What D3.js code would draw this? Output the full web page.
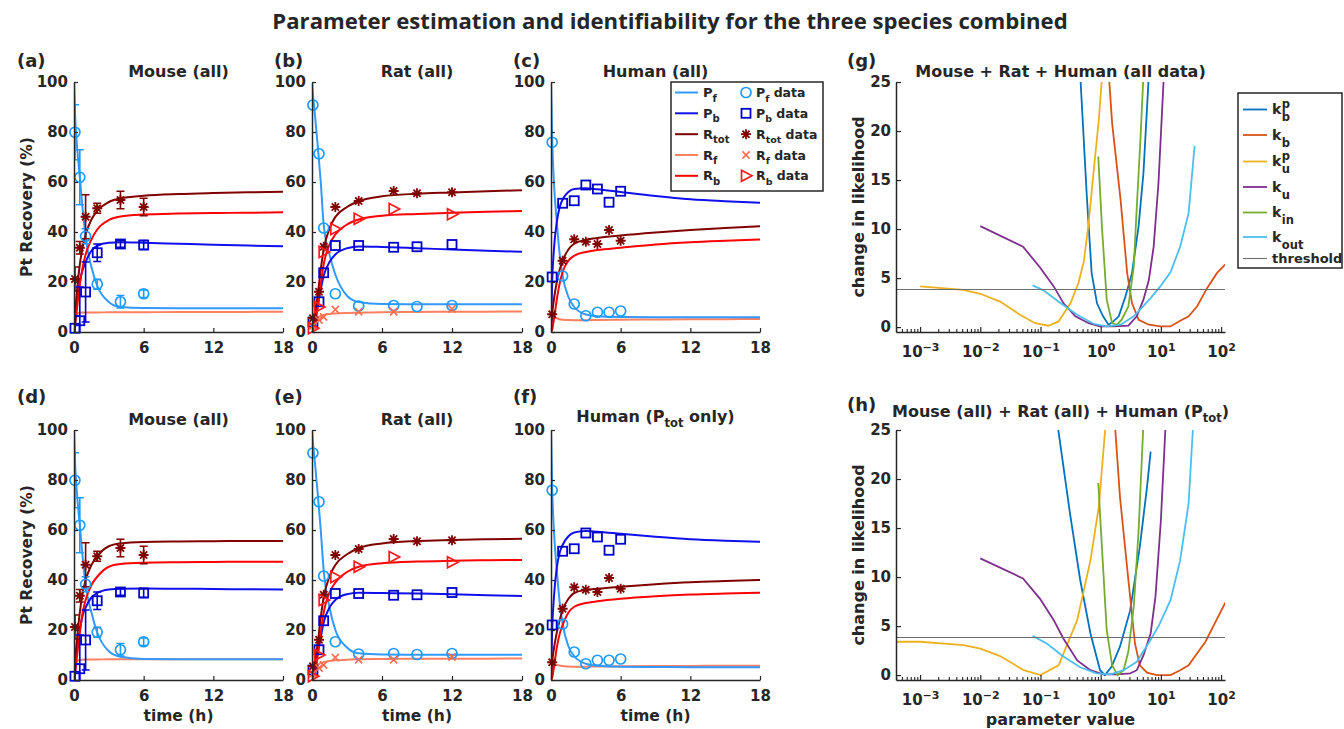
<!DOCTYPE html>
<html><head><meta charset="utf-8">
<script src="https://cdn.jsdelivr.net/npm/d3@7"></script>
<style>
body{margin:0;background:#fff}
svg{display:block}
text{font-family:"DejaVu Sans",sans-serif;font-weight:bold;fill:#262626}
</style>
</head><body>
<svg id="c" width="1344" height="729"></svg>
<script>
// ---------------- DATA ----------------
const timeTicks=[0,6,12,18];
const pctTicks=[0,20,40,60,80,100];
const likeTicks=[0,5,10,15,20,25];
const logMajorTicks=[1e-3,1e-2,1e-1,1,10,100];
const threshold=3.84;

// model time grid (h)
const tModel=[0,0.1,0.25,0.5,0.75,1,1.5,2,3,4,6,9,12,15,18];
// (a) Mouse (all)
const mA_Pf  =[100,86,75,62,49,38,26,18.5,12,10,9.6,9.5,9.5,9.5,9.5];
const mA_Pb  =[0,6,12,20,25,28,32.5,34.5,35.7,35.9,35.7,35.3,34.9,34.6,34.3];
const mA_Rtot=[0,8,16,27,34,39,45,48.5,52,53.5,54.5,55.2,55.6,55.9,56.1];
const mA_Rf  =[0,5,7.2,7.7,7.8,7.8,7.8,7.8,7.9,7.9,7.9,8,8,8.05,8.1];
const mA_Rb  =[0,3,9,19,26,31,37,41,44.8,46.2,47,47.4,47.6,47.7,47.9];
// (b) Rat (all)
const rB_Pf  =[100,94,87,74,60,43,31,23,14.5,12,11.2,11.1,11.1,11.1,11.1];
const rB_Pb  =[0,3,6,11,17,22.5,28,31,33.5,34.2,34,33.5,33,32.5,32.1];
const rB_Rtot=[0,3,7,15,25,33,41.5,46,50,52.3,54.3,55.3,55.8,56.3,56.7];
const rB_Rf  =[0,2.5,4,5.8,6.4,6.8,7.2,7.4,7.6,7.7,7.9,8,8.1,8.15,8.2];
const rB_Rb  =[0,1,3,10,19,27,35,39,43,45,46.5,47.2,47.7,48.1,48.4];
// (c) Human (all)
const hC_Pf  =[100,77,60,44,31,22.5,14,10,7,6.3,6,5.9,5.9,5.9,5.9];
const hC_Pb  =[0,20,33,44,50,53,56,57.2,57.5,57.1,56,54.4,53.1,52.3,51.7];
const hC_Rtot=[0,7,13,20,25,28.5,33,35.3,36.8,37.6,38.6,39.8,40.8,41.6,42.3];
const hC_Rf  =[0,6.5,6.2,5.5,5.1,4.9,4.8,4.7,4.7,4.8,4.9,5,5.1,5.15,5.2];
const hC_Rb  =[0,1,5,13,19.5,24,28.5,30.5,32,32.8,33.7,35,35.9,36.5,37];
// (d) Mouse (all)
const mD_Pf  =[100,86,75,62,49,38,27,19,11.5,9.3,8.4,8.3,8.3,8.3,8.3];
const mD_Pb  =[0,6,12,20,26,29,33,34.8,36.2,36.5,36.6,36.5,36.4,36.3,36.2];
const mD_Rtot=[0,8,16,27,35,40,46,49.5,53.5,54.6,55.2,55.4,55.5,55.6,55.6];
const mD_Rf  =[0,5,7.5,8,8.1,8.2,8.2,8.2,8.3,8.3,8.3,8.3,8.3,8.3,8.3];
const mD_Rb  =[0,3,9,19,27,32,38,41.3,45.3,46.4,46.9,47.1,47.2,47.3,47.3];
// (e) Rat (all)
const rE_Pf  =[100,94,87,74,60,44,29,20,13,10.7,10.2,10.1,10.1,10.1,10.1];
const rE_Pb  =[0,3,6,11,17,23,29,32,34.3,34.9,34.8,34.6,34.3,33.9,33.6];
const rE_Rtot=[0,3,7,15,25,33,41.5,46,50.3,52.7,54.6,55.6,56,56.3,56.5];
const rE_Rf  =[0,2.5,4.2,6,6.8,7.2,7.6,7.9,8.1,8.3,8.4,8.5,8.5,8.55,8.6];
const rE_Rb  =[0,1,3,10,19,27,35,39,43.2,45.3,46.7,47.4,47.7,47.9,48];
// (f) Human (Ptot only)
const hF_Pf  =[100,77,60,44,31,22.5,13.5,9.5,6.5,5.7,5.3,5.2,5.1,5.1,5.1];
const hF_Pb  =[0,20,33,45,51,54,57.5,59,59.6,59.3,58.5,57.3,56.3,55.7,55.3];
const hF_Rtot=[0,7,12.5,19,24,28,32.5,34.8,36,36.5,37.3,38.3,39.1,39.6,40];
const hF_Rf  =[0,6.5,6.3,6,5.8,5.6,5.4,5.3,5.3,5.4,5.5,5.6,5.65,5.7,5.7];
const hF_Rb  =[0,1,5,13,18.5,22,27,29.3,30.8,31.5,32.5,33.5,34.2,34.6,34.9];

// experimental data
const mouseT=[0.08,0.5,1,2,4,6];
const mousePf=[79.9,61.9,38.3,19.1,12.1,15.3];
const mousePfErr=[11,11,3,2,2.5,1.5];
const mousePb=[1.5,4.5,16,31.7,35.2,34.8];
const mousePbErr=[5,13.5,12,3.5,1.3,1.8];
const mouseRtot=[21.2,33.7,46.1,49.5,52.8,50];
const mouseRtotErr=[4.8,2.5,8.8,2,3.5,3.5];

const ratT=[0.08,0.6,1,2,4,7,9,12];
const ratPf=[90.8,71.3,41.6,15.3,10.4,10.6,10.2,10.6];
const ratPb=[4,12.1,23.7,34.6,34.6,33.9,34.1,35];
const ratRtot=[5.5,16.1,34.1,50,52.4,56.4,55.5,55.9];
const ratT2=[0.08,0.6,1,2,4,7,12];
const ratRf=[2.5,4.8,6,9,8.1,8.1,9.2];
const ratRb=[1.5,10,32,41.2,45.3,49.2,47.1];

const humanT=[0.1,1,2,3,4,5,6];
const humanPf=[75.9,22.4,11.2,6.5,7.9,7.9,8.4];
const humanPb=[22,51.5,52.5,58.8,57.2,51.9,56.3];
const humanRtot=[7.1,28.5,37.1,36.1,35.2,40.8,36.5];

// profile likelihoods (g): parameter value, change in likelihood
const g_kbp_x=[0.437,0.589,0.708,0.871,1.096,1.349,1.622,1.995,2.57,3.311,4.266,5.129,6.607];
const g_kbp_y=[28,13.3,5.5,2.4,1.1,0.24,0.58,1.1,3.1,5.5,10.3,15.7,28];
const g_kb_x=[1.288,1.549,2.138,2.754,3.311,4.266,6.31,9.772,14.45,19.95,28.84,39.81,58.88,85.11,117.5];
const g_kb_y=[28,20.8,13,5.5,2.45,0.75,0.24,0.07,0.07,0.58,1.1,2.1,4,5.5,6.4];
const g_kup_x=[0.001,0.00525,0.01,0.0214,0.0457,0.0813,0.135,0.2,0.316,0.427,0.525,0.631,0.759,0.933,1.096];
const g_kup_y=[4.15,3.8,3.4,2.6,1.26,0.4,0.14,0.58,2.45,4.5,6.7,10.6,15.7,21.2,27];
const g_ku_x=[0.01,0.0513,0.0977,0.166,0.24,0.38,0.631,0.977,1.622,2.884,3.981,5.129,6.31,7.586,9.12,11.48];
const g_ku_y=[10.3,8.2,6.1,4.15,2.45,1.1,0.4,0.07,0.07,0.14,1.1,2.8,4.8,8.2,14.7,27];
const g_kin_x=[0.912,1.047,1.259,1.549,1.862,2.239,2.884,3.548,3.981,4.571,5.248];
const g_kin_y=[17.4,10.3,2.8,0.4,0.24,0.75,2.1,6.2,12.3,19.1,27];
const g_kout_x=[0.0741,0.112,0.214,0.407,0.759,1.259,2.138,3.548,6.761,9.772,14.45,20.89,28.84,36.31];
const g_kout_y=[4.25,3.75,2.45,1.26,0.34,0.07,0.24,1.1,2.96,4.15,5.6,8.2,11.6,18.5];
// (h)
const h_kbp_x=[0.178,0.309,0.457,0.676,0.977,1.175,1.514,2.089,3.09,4.467,5.888,6.761];
const h_kbp_y=[27,16.5,9.7,4.25,0.5,0,0.85,2.9,6.6,13.1,19.2,22.8];
const h_kb_x=[1.66,2.089,2.884,3.715,4.467,5.888,8.511,14.45,20.89,28.84,39.81,54.95,75.86,117.5];
const h_kb_y=[27,18.2,9.7,3.2,1,0.24,0,0,0.5,1,2.2,3.4,5.1,7.4];
const h_kup_x=[0.0004,0.001,0.00525,0.01,0.0214,0.0525,0.1,0.2,0.407,0.676,0.933,1.259];
const h_kup_y=[3.4,3.4,3.06,2.7,1.94,0.5,0,1,5.6,11.7,17.2,27];
const h_ku_x=[0.01,0.0513,0.0977,0.166,0.24,0.407,0.676,1.096,1.862,3.09,3.981,5.129,6.761,8.128,10,12.3];
const h_ku_y=[11.9,9.86,7.8,5.6,3.74,1.5,0.5,0.07,0.07,0.17,0.5,2,4.25,8,15.8,27];
const h_kin_x=[0.912,1.047,1.259,1.549,1.905,2.399,2.884,3.548,4.266,5.248];
const h_kin_y=[19.6,13.1,4.6,1,0,0.5,2.4,7,14.8,27];
const h_kout_x=[0.0741,0.129,0.24,0.457,0.851,1.445,2.399,3.981,6.761,9.333,14.45,20.89,28.84,35.48];
const h_kout_y=[4,3.2,1.9,0.8,0.17,0.07,0.5,1.36,3.6,5.1,7.65,11.7,17.5,27];

// ---------------- STYLE ----------------
const colPf='#3399FF', colPb='#1010EE', colRtot='#800000', colRf='#FF8060', colRb='#FF0000';
const mkPf='#1E9BFF', mkPb='#0000CC', mkRtot='#800000', mkRf='#FF6A4D', mkRb='#FF1A1A';
const profCols=['#0072BD','#D95319','#EDB120','#7E2F8E','#77AC30','#4DBEEE'];
const AX='#262626';

const svg=d3.select('#c');

function rich(sel,str,base,small,subShift){
  const toks=str.split(/(_\{[^}]*\}|\^\{[^}]*\})/).filter(s=>s.length);
  let shift=0;
  toks.forEach(tk=>{
    let t=tk,target=0,fs=base;
    if(tk.startsWith('_{')){t=tk.slice(2,-1);target=subShift;fs=small;}
    else if(tk.startsWith('^{')){t=tk.slice(2,-1);target=-base*0.4;fs=small;}
    sel.append('tspan').attr('font-size',fs).attr('dy',target-shift).text(t);
    shift=target;
  });
}

function marker(g,type,x,y,col){
  if(type==='circle') g.append('circle').attr('cx',x).attr('cy',y).attr('r',5).attr('fill','none').attr('stroke',col).attr('stroke-width',1.7);
  else if(type==='square') g.append('rect').attr('x',x-4.5).attr('y',y-4.5).attr('width',9).attr('height',9).attr('fill','none').attr('stroke',col).attr('stroke-width',1.8);
  else if(type==='star') g.append('path').attr('d',`M${x-5},${y}H${x+5}M${x},${y-5}V${y+5}M${x-3.6},${y-3.6}L${x+3.6},${y+3.6}M${x-3.6},${y+3.6}L${x+3.6},${y-3.6}`).attr('stroke',col).attr('stroke-width',1.8).attr('fill','none');
  else if(type==='x') g.append('path').attr('d',`M${x-3.6},${y-3.6}L${x+3.6},${y+3.6}M${x-3.6},${y+3.6}L${x+3.6},${y-3.6}`).attr('stroke',col).attr('stroke-width',1.5).attr('fill','none');
  else if(type==='tri') g.append('path').attr('d',`M${x-4.5},${y-5.5}L${x+6},${y}L${x-4.5},${y+5.5}Z`).attr('stroke',col).attr('stroke-width',1.7).attr('fill','none');
}

const dataSets={
  mouse:[
    {t:mouseT,v:mousePf,e:mousePfErr,type:'circle',col:mkPf},
    {t:mouseT,v:mousePb,e:mousePbErr,type:'square',col:mkPb},
    {t:mouseT,v:mouseRtot,e:mouseRtotErr,type:'star',col:mkRtot}],
  rat:[
    {t:ratT,v:ratPf,type:'circle',col:mkPf},
    {t:ratT,v:ratPb,type:'square',col:mkPb},
    {t:ratT,v:ratRtot,type:'star',col:mkRtot},
    {t:ratT2,v:ratRf,type:'x',col:mkRf},
    {t:ratT2,v:ratRb,type:'tri',col:mkRb}],
  human:[
    {t:humanT,v:humanPf,type:'circle',col:mkPf},
    {t:humanT,v:humanPb,type:'square',col:mkPb},
    {t:humanT,v:humanRtot,type:'star',col:mkRtot}]
};

function styleAxis(g){
  g.attr('font-size',15).attr('color',AX);
  g.select('.domain').attr('stroke-width',1.5);
  g.selectAll('.tick line').attr('stroke-width',1.2);
}

const lin=[
 {id:'a',label:'(a)',lx:17,ly:67,title:'Mouse (all)',ty:77,x0:74,x1:283,y0:82,y1:332,model:[mA_Pf,mA_Pb,mA_Rtot,mA_Rf,mA_Rb],data:'mouse',ylab:true,xlab:false},
 {id:'b',label:'(b)',lx:274,ly:67,title:'Rat (all)',ty:77,x0:312,x1:522,y0:82,y1:332,model:[rB_Pf,rB_Pb,rB_Rtot,rB_Rf,rB_Rb],data:'rat',ylab:false,xlab:false},
 {id:'c',label:'(c)',lx:513,ly:67,title:'Human (all)',ty:77,x0:551,x1:760,y0:82,y1:332,model:[hC_Pf,hC_Pb,hC_Rtot,hC_Rf,hC_Rb],data:'human',ylab:false,xlab:false,legend:true},
 {id:'d',label:'(d)',lx:17,ly:403,title:'Mouse (all)',ty:425,x0:74,x1:283,y0:430,y1:680,model:[mD_Pf,mD_Pb,mD_Rtot,mD_Rf,mD_Rb],data:'mouse',ylab:true,xlab:true},
 {id:'e',label:'(e)',lx:274,ly:403,title:'Rat (all)',ty:425,x0:312,x1:522,y0:430,y1:680,model:[rE_Pf,rE_Pb,rE_Rtot,rE_Rf,rE_Rb],data:'rat',ylab:false,xlab:true},
 {id:'f',label:'(f)',lx:513,ly:403,title:'Human (P_{tot} only)',ty:422,x0:551,x1:760,y0:430,y1:680,model:[hF_Pf,hF_Pb,hF_Rtot,hF_Rf,hF_Rb],data:'human',ylab:false,xlab:true}
];
const modelCols=[colPf,colPb,colRtot,colRf,colRb];

lin.forEach(p=>{
  const g=svg.append('g');
  const xs=d3.scaleLinear().domain([0,18]).range([p.x0,p.x1]);
  const ys=d3.scaleLinear().domain([0,100]).range([p.y1,p.y0]);
  g.append('clipPath').attr('id','clip'+p.id).append('rect')
    .attr('x',p.x0).attr('y',p.y0-1).attr('width',p.x1-p.x0+1).attr('height',p.y1-p.y0+1);
  const line=d3.line().x((d,i)=>xs(tModel[i])).y(d=>ys(d)).curve(d3.curveMonotoneX);
  const lg=g.append('g').attr('clip-path',`url(#clip${p.id})`);
  [3,0,1,2,4].forEach(k=>{
    lg.append('path').attr('d',line(p.model[k])).attr('fill','none').attr('stroke',modelCols[k]).attr('stroke-width',2);
  });
  const dg=g.append('g');
  dataSets[p.data].forEach(s=>{
    if(s.e){
      s.t.forEach((t,i)=>{
        const x=xs(t),ya=ys(Math.max(0,s.v[i]-s.e[i])),yb=ys(s.v[i]+s.e[i]);
        lg.append('path').attr('d',`M${x},${ya}V${yb}M${x-4},${yb}H${x+4}`+(s.v[i]-s.e[i]>0?`M${x-4},${ya}H${x+4}`:''))
          .attr('stroke',s.col).attr('stroke-width',1.6).attr('fill','none');
      });
    }
    s.t.forEach((t,i)=>marker(dg,s.type,xs(t),ys(s.v[i]),s.col));
  });
  // axes
  g.append('g').attr('transform',`translate(0,${p.y1})`)
    .call(d3.axisBottom(xs).tickValues(timeTicks).tickSizeInner(-4).tickSizeOuter(0).tickPadding(10))
    .call(styleAxis);
  g.append('g').attr('transform',`translate(${p.x0},0)`)
    .call(d3.axisLeft(ys).tickValues(pctTicks).tickSizeInner(-4).tickSizeOuter(0).tickPadding(6))
    .call(styleAxis);
  // texts
  svg.append('text').attr('x',p.lx).attr('y',p.ly).attr('font-size',18).text(p.label);
  const tt=svg.append('text').attr('x',(p.x0+p.x1)/2).attr('y',p.ty).attr('text-anchor','middle');
  rich(tt,p.title,16,11.5,5);
  if(p.ylab) svg.append('text').attr('transform',`translate(32,${(p.y0+p.y1)/2}) rotate(-90)`).attr('text-anchor','middle').attr('font-size',15.5).text('Pt Recovery (%)');
  if(p.xlab) svg.append('text').attr('x',(p.x0+p.x1)/2).attr('y',p.y1+41).attr('text-anchor','middle').attr('font-size',15.5).text('time (h)');
  if(p.legend){
    const L=svg.append('g');
    L.append('rect').attr('x',671).attr('y',82).attr('width',152).attr('height',109).attr('fill','#fff').attr('stroke',AX).attr('stroke-width',1.5);
    const ent=[['P_{f}',colPf,'circle',mkPf],['P_{b}',colPb,'square',mkPb],['R_{tot}',colRtot,'star',mkRtot],['R_{f}',colRf,'x',mkRf],['R_{b}',colRb,'tri',mkRb]];
    const rowY=[92.5,113.3,134.2,155,175.8];
    ent.forEach((e,i)=>{
      const y=rowY[i];
      L.append('line').attr('x1',675).attr('x2',698).attr('y1',y).attr('y2',y).attr('stroke',e[1]).attr('stroke-width',2);
      const t1=L.append('text').attr('x',703).attr('y',y+4.5).attr('font-size',13); rich(t1,e[0],13,10,4.5);
      marker(L,e[2],746,y,e[3]);
      const t2=L.append('text').attr('x',756).attr('y',y+4.5).attr('font-size',12.5); rich(t2,e[0]+' data',12.5,9.5,4.5);
    });
  }
});

// ---------------- profile likelihood panels ----------------
const prof=[
 {id:'g',label:'(g)',lx:847,ly:67,title:'Mouse + Rat + Human (all data)',ty:77,y0:82,y1:332,
  curves:[[g_kbp_x,g_kbp_y],[g_kb_x,g_kb_y],[g_kup_x,g_kup_y],[g_ku_x,g_ku_y],[g_kin_x,g_kin_y],[g_kout_x,g_kout_y]],legend:true,xlab:false},
 {id:'h',label:'(h)',lx:847,ly:411,title:'Mouse (all) + Rat (all) + Human (P_{tot})',ty:417,y0:430,y1:680,
  curves:[[h_kbp_x,h_kbp_y],[h_kb_x,h_kb_y],[h_kup_x,h_kup_y],[h_ku_x,h_ku_y],[h_kin_x,h_kin_y],[h_kout_x,h_kout_y]],legend:false,xlab:true}
];
const xDom=[Math.pow(10,-3.4),Math.pow(10,2.065)];
const minorTicks=[];
for(let k=-4;k<=2;k++)for(let m=2;m<=9;m++){const v=m*Math.pow(10,k);if(v>=xDom[0]&&v<=xDom[1])minorTicks.push(v);}

prof.forEach(p=>{
  const g=svg.append('g');
  const x0=896,x1=1225;
  const xs=d3.scaleLog().domain(xDom).range([x0,x1]);
  const ys=d3.scaleLinear().domain([-0.5,25]).range([p.y1,p.y0]);
  g.append('clipPath').attr('id','clip'+p.id).append('rect').attr('x',x0).attr('y',p.y0).attr('width',x1-x0).attr('height',p.y1-p.y0);
  const cg=g.append('g').attr('clip-path',`url(#clip${p.id})`);
  p.curves.forEach((c,k)=>{
    const pts=c[0].map((x,i)=>[x,c[1][i]]);
    cg.append('path').attr('d',d3.line().x(d=>xs(d[0])).y(d=>ys(d[1]))(pts)).attr('fill','none').attr('stroke',profCols[k]).attr('stroke-width',1.8);
  });
  cg.append('path').attr('d',d3.line().x(d=>xs(d)).y(()=>ys(threshold))(xDom)).attr('stroke','#6E6E6E').attr('stroke-width',1.1);
  g.append('g').attr('transform',`translate(0,${p.y1})`)
    .call(d3.axisBottom(xs).tickValues(minorTicks).tickSize(-3).tickFormat(''))
    .call(a=>{a.select('.domain').remove();a.attr('color',AX);a.selectAll('.tick line').attr('stroke-width',1.1);});
  const ax=g.append('g').attr('transform',`translate(0,${p.y1})`)
    .call(d3.axisBottom(xs).tickValues(logMajorTicks).tickSizeInner(-5).tickSizeOuter(0).tickPadding(14).tickFormat(()=>''))
    .call(styleAxis);
  ax.selectAll('.tick text').each(function(d){
    const e=Math.round(Math.log10(d));
    const t=d3.select(this);
    t.append('tspan').text('10');
    t.append('tspan').attr('font-size',11).attr('dy','-0.5em').text(e<0?'\u2212'+(-e):String(e));
  });
  g.append('g').attr('transform',`translate(${x0},0)`)
    .call(d3.axisLeft(ys).tickValues(likeTicks).tickSizeInner(-5).tickSizeOuter(0).tickPadding(5))
    .call(styleAxis);
  svg.append('text').attr('x',p.lx).attr('y',p.ly).attr('font-size',18).text(p.label);
  const tt=svg.append('text').attr('x',(x0+x1)/2).attr('y',p.ty).attr('text-anchor','middle');
  rich(tt,p.title,16,11.5,5);
  svg.append('text').attr('transform',`translate(864,${(p.y0+p.y1)/2}) rotate(-90)`).attr('text-anchor','middle').attr('font-size',16).text('change in likelihood');
  if(p.xlab) svg.append('text').attr('x',(x0+x1)/2).attr('y',725).attr('text-anchor','middle').attr('font-size',16).text('parameter value');
  if(p.legend){
    const L=svg.append('g');
    L.append('rect').attr('x',1238).attr('y',93).attr('width',104).attr('height',175).attr('fill','#fff').attr('stroke',AX).attr('stroke-width',1.5);
    const ent=[['b','p'],['b',null],['u','p'],['u',null],['in',null],['out',null]];
    const rowY=[109.5,135,161.5,187,212.5,237,258.5];
    ent.forEach((e,i)=>{
      const y=rowY[i];
      L.append('line').attr('x1',1243).attr('x2',1267).attr('y1',y).attr('y2',y).attr('stroke',profCols[i]).attr('stroke-width',1.8);
      const k=L.append('text').attr('x',1272).attr('y',y+4.7).attr('font-size',14).text('k');
      const w=k.node().getComputedTextLength();
      L.append('text').attr('x',1272+w+0.5).attr('y',y+11.5).attr('font-size',11.5).text(e[0]);
      if(e[1]) L.append('text').attr('x',1272+w+0.5).attr('y',y-1.5).attr('font-size',11.5).text(e[1]);
    });
    const y=rowY[6];
    L.append('line').attr('x1',1243).attr('x2',1267).attr('y1',y).attr('y2',y).attr('stroke','#6E6E6E').attr('stroke-width',1.1);
    L.append('text').attr('x',1272).attr('y',y+4.7).attr('font-size',13).text('threshold');
  }
});

// ---------------- main title ----------------
const T=svg.append('text').attr('x',670).attr('y',29).attr('text-anchor','middle')
  .style('font-family','"Open Sans", sans-serif').style('font-weight','700').attr('font-size',21)
  .text('Parameter estimation and identifiability for the three species combined');
const tw=T.node().getComputedTextLength();
T.attr('font-size',21*796/tw);
</script>
</body></html>
